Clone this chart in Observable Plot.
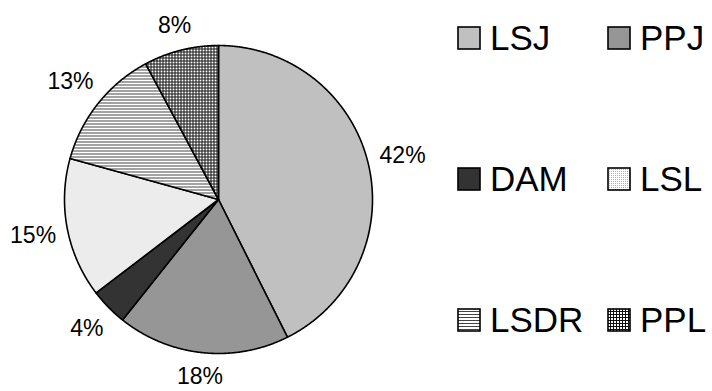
<!DOCTYPE html>
<html>
<head>
<meta charset="utf-8">
<script src="https://cdn.jsdelivr.net/npm/d3@7"></script>
<script src="https://cdn.jsdelivr.net/npm/@observablehq/plot@0.6"></script>
<style>
  html, body { margin: 0; padding: 0; background: #fff; }
  body { width: 712px; height: 391px; position: relative; overflow: hidden; font-family: "Liberation Sans", Arial, sans-serif; }
  #chart { position: absolute; left: 0; top: 0; }
  #legend { position: absolute; left: 457px; top: 0; width: 255px; height: 391px; }
  .item { position: absolute; display: flex; align-items: center; height: 36px; }
  .item svg { display: block; }
  .item span { font-size: 35px; line-height: 36px; color: #000; margin-left: 9px; }
</style>
</head>
<body>
<svg width="0" height="0" style="position:absolute">
  <defs>
    <pattern id="pLSJ" patternUnits="userSpaceOnUse" width="4" height="4"><rect width="4" height="4" fill="#c0c0c0"/></pattern>
    <pattern id="pPPJ" patternUnits="userSpaceOnUse" width="4" height="4"><rect width="4" height="4" fill="#969696"/></pattern>
    <pattern id="pDAM" patternUnits="userSpaceOnUse" width="4" height="4"><rect width="4" height="4" fill="#333333"/></pattern>
    <pattern id="pLSL" patternUnits="userSpaceOnUse" width="2" height="2">
      <rect width="2" height="2" fill="#ffffff"/><rect width="1" height="1" fill="#b4b4b4"/>
    </pattern>
    <pattern id="pLSDR" patternUnits="userSpaceOnUse" width="3" height="3">
      <rect width="3" height="3" fill="#ffffff"/><rect width="3" height="1" fill="#444444"/>
    </pattern>
    <pattern id="pPPL" patternUnits="userSpaceOnUse" width="3" height="3">
      <rect width="3" height="3" fill="#ffffff"/><rect width="3" height="1" fill="#111111"/><rect width="1" height="3" fill="#111111"/>
    </pattern>
  </defs>
</svg>
<div id="chart"></div>
<div id="legend"></div>
<script>
// ---- data ----
const categories = ["LSJ", "PPJ", "DAM", "LSL", "LSDR", "PPL"];
const values = [42.4, 18.0, 3.9, 14.6, 12.8, 7.8];
const labels = ["42%", "18%", "4%", "15%", "13%", "8%"];
const fills = ["url(#pLSJ)", "url(#pPPJ)", "url(#pDAM)", "url(#pLSL)", "url(#pLSDR)", "url(#pPPL)"];
const legendOrder = [["LSJ", "PPJ"], ["DAM", "LSL"], ["LSDR", "PPL"]];

// ---- geometry from data ----
const radiusPx = 154;      // pie radius in pixels (x/y domain [-1,1])
const labelSize = 23;      // label font size
const gapPx = 10;          // gap between pie edge and label box
const table = categories.map((c, i) => ({name: c, value: values[i], label: labels[i]}));
const arcs = d3.pie().sort(null).value(d => d.value).startAngle(0).endAngle(2 * Math.PI)(table);
const polys = [];
const labelPts = [];
for (const a of arcs) {
  polys.push({name: a.data.name, x: 0, y: 0});
  const n = Math.max(4, Math.ceil((a.endAngle - a.startAngle) / 0.005));
  for (let k = 0; k <= n; k++) {
    const t = a.startAngle + (a.endAngle - a.startAngle) * k / n;
    polys.push({name: a.data.name, x: Math.sin(t), y: Math.cos(t)});
  }
  const m = (a.startAngle + a.endAngle) / 2;
  // label box placed just outside the pie edge (like outside-end data labels)
  const txt = a.data.label;
  const halfW = ((txt.length - 1) * 0.556 + 0.889) * labelSize / 2;
  const halfH = 12;
  const dist = radiusPx + gapPx + Math.abs(Math.sin(m)) * halfW + Math.abs(Math.cos(m)) * halfH;
  const r = dist / radiusPx;
  labelPts.push({name: a.data.name, label: txt, x: r * Math.sin(m), y: r * Math.cos(m)});
}

const chart = Plot.plot({
  width: 712,
  height: 391,
  marginLeft: 64,
  marginRight: 340,
  marginTop: 45,
  marginBottom: 38,
  x: {domain: [-1, 1], axis: null},
  y: {domain: [-1, 1], axis: null},
  color: {domain: categories, range: fills},
  style: {fontFamily: "'Liberation Sans', Arial, sans-serif", background: "transparent", overflow: "visible"},
  marks: [
    Plot.line(polys, {x: "x", y: "y", z: "name", fill: "name", stroke: "#000", strokeWidth: 1.6, curve: "linear-closed", strokeLinejoin: "round"}),
    Plot.text(labelPts, {x: "x", y: "y", text: "label", fontSize: labelSize, fill: "#000", textAnchor: "middle", lineAnchor: "middle"})
  ]
});
document.getElementById("chart").appendChild(chart);

// ---- legend ----
const legend = document.getElementById("legend");
const rowTops = [20, 161, 302];
const colLefts = [0, 150];
legendOrder.forEach((row, r) => {
  row.forEach((name, c) => {
    const i = categories.indexOf(name);
    const item = document.createElement("div");
    item.className = "item";
    item.style.top = rowTops[r] + "px";
    item.style.left = colLefts[c] + "px";
    item.innerHTML = `<svg width="24" height="24"><rect x="1" y="1" width="22" height="22" fill="${fills[i]}" stroke="#000" stroke-width="1.6"/></svg><span>${name}</span>`;
    legend.appendChild(item);
  });
});
</script>
</body>
</html>
